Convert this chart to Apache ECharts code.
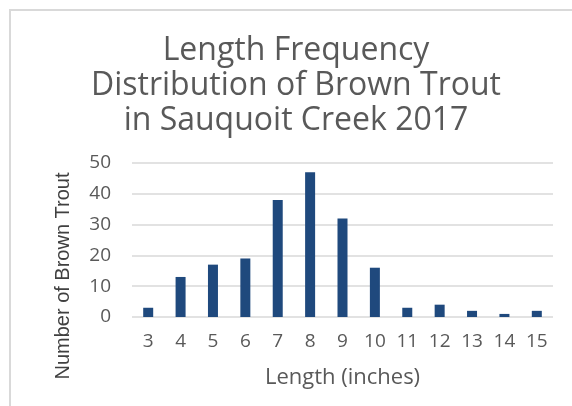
<!DOCTYPE html>
<html><head><meta charset="utf-8">
<script src="https://cdn.jsdelivr.net/npm/echarts@6/dist/echarts.min.js"></script>
<style>html,body{margin:0;padding:0;background:#fff}#c{width:572px;height:406px}</style>
</head><body><div id="c"></div>
<script>
const categories = ['3','4','5','6','7','8','9','10','11','12','13','14','15'];
const counts = [3,13,17,19,38,47,32,16,3,4,2,1,2];
const yTicks = [0,10,20,30,40,50];
const titleText = 'Length Frequency\nDistribution of Brown Trout\nin Sauquoit Creek 2017';
const xName = 'Length (inches)';
const yName = 'Number of Brown Trout';

const chart = echarts.init(document.getElementById('c'));
chart.setOption({
  animation: false,
  backgroundColor: '#fff',
  graphic: [
    {type:'rect', shape:{x:10,y:10,width:600,height:450}, style:{fill:'none', stroke:'#d9d9d9', lineWidth:2}},
    {type:'text', x: 63, y: 276, rotation: Math.PI/2,
     style:{text: yName, fill:'#404040', fontSize: 20, fontFamily: '"Liberation Sans Narrow", "Liberation Sans"', align:'center', verticalAlign:'middle'}}
  ],
  title: {
    text: titleText, left: 291, top: 28, textAlign: 'center',
    textStyle: {fontFamily: 'Open Sans', fontWeight: 'normal', fontSize: 32, color: '#595959', lineHeight: 35}
  },
  grid: {left: 132, right: 19, top: 163, bottom: 89},
  xAxis: {
    type: 'category', data: categories,
    axisLine: {show: false}, axisTick: {show: false},
    axisLabel: {color: '#595959', fontSize: 19, fontFamily: 'Open Sans', margin: 15},
    name: xName, nameLocation: 'middle', nameGap: 50,
    nameTextStyle: {color: '#595959', fontSize: 22, fontFamily: 'Open Sans'}
  },
  yAxis: {
    type: 'value', min: yTicks[0], max: yTicks[yTicks.length-1], interval: 10,
    axisLine: {show: false}, axisTick: {show: false},
    splitLine: {lineStyle: {color: '#d9d9d9', width: 1.5}},
    axisLabel: {color: '#595959', fontSize: 19, fontFamily: 'Open Sans', margin: 21}
  },
  series: [{type: 'bar', data: counts, barWidth: 10, itemStyle: {color: '#1f497d'}}]
});
</script></body></html>
